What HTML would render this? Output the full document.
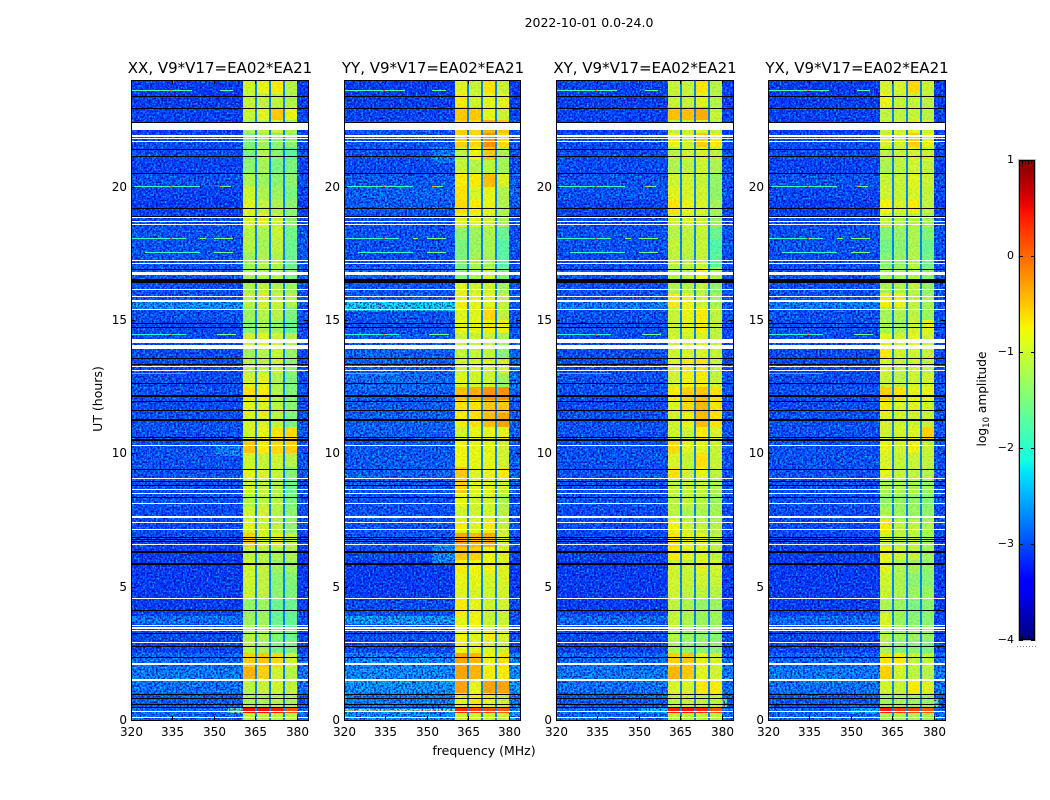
<!DOCTYPE html>
<html lang="en">
<head>
<meta charset="utf-8">
<title>2022-10-01 0.0-24.0</title>
<style>
html,body{margin:0;padding:0;background:#fff;width:1050px;height:800px;overflow:hidden}
svg{display:block;font-family:"DejaVu Sans","Liberation Sans",sans-serif;fill:#000}
.noise{mix-blend-mode:hard-light}
</style>
</head>
<body>
<svg id="chart" xmlns="http://www.w3.org/2000/svg" width="1050" height="800" viewBox="0 0 1050 800">
<defs>
<filter id="speckle" x="0" y="0" width="100%" height="100%" color-interpolation-filters="sRGB">
<feTurbulence type="fractalNoise" baseFrequency="0.55" numOctaves="2" seed="4"/>
<feColorMatrix type="matrix" values="0 0 0 0 .5  1.9 0 0 0 -.62  1.2 0 0 0 -.05  0 0 0 0 1"/>
</filter>
<linearGradient id="jet-gradient" x1="0" y1="1" x2="0" y2="0"></linearGradient>
</defs>
<text x="589" y="27" text-anchor="middle" font-size="12.5">2022-10-01 0.0-24.0</text>
<text x="484" y="755" text-anchor="middle" font-size="12.5">frequency (MHz)</text>
<text transform="translate(102,399) rotate(-90)" text-anchor="middle" font-size="12.5">UT (hours)</text>
<text transform="translate(986,399) rotate(-90)" text-anchor="middle" font-size="12.2">log<tspan font-size="8.5" dy="3">10</tspan><tspan dy="-3"> amplitude</tspan></text>
<g id="panels"></g>
<g id="colorbar"></g>
</svg>
<script>
// Each row: [background, band1, band2, band3, band4] in log10 amplitude.
// Rows run from the 23.5-24 h bin at the top down to the 0-0.5 h bin.
const xxRows = [
[-3,-1,-.85,-.75,-1.15],[-3,-1.05,-1.1,-1.1,-1.2],[-2.95,-1.05,-.9,-.55,-.85],[-3,-1.2,-1.1,-1,-1.2],
[-2.9,-1.5,-1.3,-1.4,-1.4],[-2.9,-1.5,-1.15,-1.4,-1.7],[-2.95,-1.4,-1.25,-1.5,-1.5],[-2.85,-1.2,-1.3,-1.4,-1.4],
[-2.95,-1,-1.2,-1.3,-1.5],[-3,-.9,-1.1,-1.2,-1.4],[-2.9,-.95,-.95,-1.05,-1.4],[-2.85,-1.15,-1.2,-1.05,-1.55],
[-2.85,-1.15,-1.25,-1.1,-1.6],[-2.85,-1.3,-1.2,-1.2,-1.6],[-2.8,-1.2,-1.15,-1.15,-1.5],[-2.85,-1.2,-1.1,-1.2,-1.3],
[-2.85,-1.1,-1,-1.05,-1.15],[-2.85,-1.3,-1.15,-1.15,-1.5],[-2.9,-1.4,-1.2,-1.3,-1.6],[-2.9,-1,-.9,-1,-1.2],
[-2.9,-1.3,-1.15,-1.05,-1.35],[-2.9,-1.15,-1.1,-1,-1.4],[-2.9,-.95,-.9,-1.2,-1.5],[-2.85,-.7,-.75,-1.15,-1.45],
[-2.9,-.9,-.95,-1.1,-1.4],[-2.85,-.95,-.95,-1.1,-1.5],[-2.85,-.95,-.85,-.7,-.65],[-2.85,-.55,-.75,-.65,-.6],
[-2.85,-1,-1.05,-1,-1.15],[-2.85,-.85,-.95,-1.05,-1.45],[-2.85,-1,-1.1,-1.2,-1.6],[-2.85,-1.15,-1.1,-1.15,-1.5],
[-2.9,-1,-1,-1.15,-1.4],[-2.9,-.9,-1,-1.15,-1.35],[-2.9,-.6,-.95,-.9,-1.05],[-3,-1.1,-1.15,-1.2,-1.2],
[-3,-1,-1.1,-1.3,-1.3],[-3,-1,-1.1,-1.4,-1.45],[-3,-1.05,-1.1,-1.4,-1.5],[-3,-1.35,-1.3,-1.6,-1.6],
[-2.9,-1.3,-1.3,-1.6,-1.65],[-2.9,-1.15,-1.2,-1.45,-1.6],[-2.95,-1.1,-1.25,-1.5,-1.5],[-2.7,-.6,-.55,-.65,-1],
[-2.6,-.45,-.6,-1,-1.15],[-2.65,-1.1,-1.05,-1,-1.1],[-2.8,-1.2,-1.2,-1.15,-1.2],[-2.7,-1.1,-1.1,-1.1,-1.15]
];
const yyRows = [
[-3,-.9,-1.05,-.7,-1.05],[-3,-.75,-1,-.85,-.9],[-2.95,-.55,-.55,-.85,-1.05],[-2.85,-.6,-.65,-.45,-.55],
[-2.85,-.6,-.65,-.25,-.65],[-2.85,-1.1,-.8,-.55,-1.2],[-2.9,-1.05,-1.15,-1.1,-1.25],[-2.8,-.75,-.75,-.5,-.95],
[-2.75,-.7,-.95,-.85,-1.2],[-2.8,-.65,-.75,-.85,-1.2],[-2.85,-.9,-.9,-1,-1.25],[-2.85,-1.4,-1.3,-1.2,-1.6],
[-2.85,-1.5,-1.3,-1.2,-1.7],[-2.9,-1.5,-1.25,-1.25,-1.7],[-2.75,-1.45,-1.2,-1,-1.5],[-2.8,-.9,-1,-1,-1.25],
[-2.8,-.75,-.85,-.85,-1.05],[-2.85,-.9,-.9,-.65,-1.1],[-2.85,-.85,-.85,-.75,-.85],[-2.8,-1.05,-1.05,-1.05,-1.25],
[-2.75,-1.05,-1.05,-1.05,-1.4],[-2.75,-1,-.95,-.95,-1],[-2.7,-.9,-1,-1,-1.3],[-2.75,-.5,-.4,-.25,-.25],
[-2.8,-.7,-.7,-.55,-.55],[-2.75,-.75,-.7,-.5,-.35],[-2.75,-1,-.85,-.85,-.9],[-2.8,-.8,-.85,-.85,-1],
[-2.8,-.8,-.85,-.85,-1],[-2.75,-.55,-.9,-.8,-.75],[-2.8,-.6,-.9,-.9,-1],[-2.85,-.85,-1,-1,-1.2],
[-2.85,-1,-1,-1,-1.15],[-2.85,-.75,-.9,-.75,-1.05],[-2.8,-.35,-.45,-.4,-.95],[-2.9,-.55,-.6,-.8,-.95],
[-3,-.75,-.8,-.8,-.95],[-3,-.85,-.85,-.95,-.95],[-3,-.9,-.95,-1,-1],[-2.9,-.75,-.85,-1,-1],
[-2.85,-.85,-.8,-1.05,-1.05],[-2.85,-.8,-.9,-.75,-.95],[-2.9,-.8,-.85,-.9,-1],[-2.55,-.35,-.45,-.8,-.7],
[-2.5,-.35,-.45,-.75,-.75],[-2.45,-.35,-.85,-.35,-.35],[-2.6,-.9,-.75,-.85,-1],[-2.5,-1,-1,-1,-1.05]
];
const xyRows = [
[-2.95,-1.05,-1.05,-.7,-1.15],[-3,-1.05,-1.05,-.9,-1.15],[-2.95,-.5,-.5,-.4,-1.05],[-3,-1.1,-1,-.95,-1.1],
[-2.9,-.85,-1,-.6,-.75],[-2.9,-1.15,-1,-.95,-1.1],[-2.9,-1.2,-1.1,-1,-1.2],[-2.85,-1,-1,-1.05,-1.35],
[-2.85,-.9,-.95,-1,-1.35],[-2.95,-.7,-.85,-.95,-1.25],[-2.9,-1,-1,-1.05,-1.3],[-2.85,-1.15,-1.1,-1.05,-1.6],
[-2.85,-1.05,-1.1,-1.05,-1.75],[-2.9,-1.1,-1.15,-1.05,-1.7],[-2.85,-1.15,-1.1,-.85,-1.2],[-2.85,-1.2,-1.15,-1.1,-1.4],
[-2.85,-.75,-.8,-1,-1.25],[-2.85,-1.05,-.85,-.75,-1.1],[-2.85,-1.05,-.9,-.75,-1.1],[-2.9,-1,-1,-.95,-1.1],
[-2.9,-1,-.95,-.95,-1.05],[-2.9,-.95,-.75,-.7,-1.05],[-2.85,-1,-.8,-.75,-1.05],[-2.85,-.75,-.6,-.55,-.7],
[-2.9,-.9,-.65,-.45,-.7],[-2.85,-1,-.85,-.5,-.7],[-2.85,-1,-1,-.75,-.95],[-2.85,-.65,-.9,-.9,-1.05],
[-2.85,-.95,-1.05,-.7,-1.05],[-2.85,-.7,-1,-.85,-1.1],[-2.85,-1.05,-1.05,-1.05,-1.2],[-2.85,-1.15,-1.1,-1.15,-1.3],
[-2.9,-1.1,-1.2,-1.2,-1.25],[-2.9,-.8,-1,-1.05,-1.15],[-2.9,-.7,-.85,-.85,-1.1],[-2.95,-.75,-.9,-.95,-1.1],
[-3,-1,-1.05,-.9,-1],[-3,-1,-1.05,-1,-1.05],[-3,-1,-1.1,-1.1,-1.15],[-3,-1.1,-1.2,-1.35,-1.3],
[-2.9,-1.05,-1.2,-1.3,-1.3],[-2.9,-1.15,-1.3,-1.35,-1.4],[-2.95,-1.2,-1.35,-1.35,-1.4],[-2.7,-.6,-.55,-.85,-1],
[-2.6,-.45,-.55,-.9,-1],[-2.65,-.95,-.95,-.75,-.75],[-2.8,-1.1,-1.05,-1.1,-1.1],[-2.7,-1.1,-1.1,-1.1,-1.15]
];
const yxRows = [
[-3,-.95,-.95,-.65,-1.05],[-3,-.85,-1.05,-1.05,-1.1],[-2.95,-1.1,-1.1,-1.05,-1.15],[-3,-1.05,-1,-.85,-1],
[-2.9,-.95,-1,-.6,-.85],[-2.9,-1.1,-1.05,-.95,-1.05],[-2.95,-1.2,-1.1,-1,-1.1],[-2.85,-1.05,-1.05,-.9,-1.05],
[-2.9,-1,-1.05,-.95,-1.1],[-3,-.8,-.95,-.75,-1.1],[-2.9,-1.05,-1.15,-1.15,-1.25],[-2.85,-1.45,-1.35,-1.2,-1.45],
[-2.85,-1.55,-1.4,-1.2,-1.6],[-2.9,-1.45,-1.35,-1.15,-1.55],[-2.85,-1.25,-1.25,-1.15,-1.4],[-2.85,-1.25,-1.2,-1.1,-1.35],
[-2.85,-.75,-.85,-1.1,-1.25],[-2.85,-1.25,-1.2,-1.1,-1.3],[-2.85,-1.2,-1.25,-1,-.9],[-2.9,-.9,-1,-.85,-1],
[-2.9,-.75,-1,-1,-1.05],[-2.9,-.95,-1.05,-1,-1.1],[-2.9,-1.05,-1.1,-1,-1],[-2.85,-.6,-.7,-.85,-.85],
[-2.9,-.75,-.95,-.9,-1],[-2.85,-.95,-1,-1,-1.05],[-2.85,-1,-.95,-.9,-.6],[-2.85,-.85,-1,-.8,-1.05],
[-2.85,-.95,-1.05,-1.05,-1.1],[-2.85,-.85,-1.05,-1.05,-1.15],[-2.85,-1.2,-1.2,-1.2,-1.3],[-2.85,-1.35,-1.35,-1.35,-1.45],
[-2.9,-1.2,-1.3,-1.3,-1.35],[-2.9,-.75,-1.1,-1.05,-1.2],[-2.9,-1,-1.1,-1.1,-1.25],[-3,-.85,-1,-1.05,-1.25],
[-3,-.9,-1.2,-1.25,-1.35],[-3,-1,-1.2,-1.4,-1.4],[-3,-1.05,-1.2,-1.3,-1.3],[-3,-1.2,-1.3,-1.5,-1.4],
[-2.9,-.95,-1.3,-1.4,-1.4],[-2.9,-1.1,-1.25,-1.3,-1.3],[-2.95,-1.2,-1.4,-1.4,-1.5],[-2.7,-.7,-.75,-1.05,-1.1],
[-2.6,-.6,-1,-1.1,-1.15],[-2.65,-1,-1.05,-.75,-.95],[-2.8,-1.3,-1.25,-1.3,-1.3],[-2.7,-1.2,-1.2,-1.2,-1.25]
];
const panelTitles = ["XX, V9*V17=EA02*EA21", "YY, V9*V17=EA02*EA21", "XY, V9*V17=EA02*EA21", "YX, V9*V17=EA02*EA21"];
const panelKeys = ["xx", "yy", "xy", "yx"];
// Frequency bin edges (MHz) and which row entry each bin reads: 0 background, 1-4 bands, -1 notch between bands.
const freqEdges = [320, 360.4, 364.8, 365.6, 369.9, 370.7, 374.9, 375.7, 380, 384];
const freqColumns = [0, 1, -1, 2, -1, 3, -1, 4, 0];
const notchLevel = -2.7;
// Bright strip near 0.4 h, one row per panel, band1..band4 levels.
const stripHours = [0.26, 0.5];
const stripLevels = [[.5,.5,.4,.1],[.35,.2,.15,.05],[.4,.45,.35,.1],[.4,.25,.2,.05]];
// Interference lines present in all panels: hour, start MHz, end MHz, level.
const spurHours = [23.6, 23.6, 23.6, 20, 20, 20, 20, 18.04, 18.04, 18.04, 18.04, 17.54, 17.54, 14.46, 14.46, 14.46, 13];
const spurStart = [320, 334, 352, 321, 334, 352, 353, 320, 334, 345, 350, 325, 350, 320, 334, 351, 320];
const spurEnd = [342, 335, 357, 345, 335, 353, 356, 340, 335, 347, 357, 345, 357, 340, 335, 358, 340];
const spurLevel = [-1.75, 0, -1.7, -1.85, 0, -.3, -1.6, -1.9, .1, -1.4, -1.5, -1.95, -1.6, -2, 0, -1.6, -2.4];
// Broad patches: panel index, start MHz, end MHz, start hour, end hour, level.
const patchPanel = [0, 1, 2, 3, 0, 1, 2, 3, 1, 1, 0, 1, 1, 2, 3, 0, 2, 3];
const patchStartMHz = [320, 320, 320, 320, 320, 320, 320, 320, 352, 352, 355, 320, 352, 350, 350, 350, 380, 380];
const patchEndMHz = [360.4, 360.4, 360.4, 360.4, 360.4, 360.4, 360.4, 360.4, 360.4, 360.4, 360.4, 360.4, 360.4, 360.4, 360.4, 360.4, 382, 382];
const patchStartHour = [15.4, 15.35, 15.4, 15.4, 3.6, 3.6, 3.6, 3.6, 5.9, 20.9, .26, .3, 5.9, .26, .26, 9.9, .5, .5];
const patchEndHour = [15.7, 15.7, 15.7, 15.7, 3.9, 3.9, 3.9, 3.9, 6.55, 21.5, .5, .4, 6.55, .5, .5, 10.3, .8, .8];
const patchLevel = [-2.5, -2.15, -2.6, -2.6, -2.65, -2.4, -2.7, -2.7, -2.5, -2.6, -1.7, -1.4, -2.5, -2.3, -2.3, -2.6, -1.8, -1.8];
// Flagged time ranges in hours, common to all panels.
const whiteFlags = [[22.14,22.37],[21.88,21.92],[21.77,21.81],[21.66,21.7],[18.82,18.86],[18.69,18.73],[18.57,18.61],[17.22,17.26],[17.11,17.15],[16.69,16.79],[16.13,16.17],[15.85,15.89],[15.68,15.75],[15.36,15.4],[14.14,14.29],[13.91,14.07],[13.22,13.26],[13.07,13.11],[10.28,10.32],[9.04,9.08],[8.61,8.65],[8.48,8.52],[8.11,8.15],[7.59,7.65],[7.39,7.43],[7.11,7.15],[6.57,6.61],[4.53,4.57],[3.51,3.55],[3.43,3.47],[3.34,3.38],[2.88,2.92],[2.08,2.12],[1.47,1.53],[.31,.35],[.07,.11]];
const blackFlags = [[23.37,23.41],[22.92,22.96],[22.37,22.41],[21.38,21.42],[21.12,21.16],[20.47,20.51],[19.17,19.21],[18.86,18.9],[16.88,16.92],[16.39,16.53],[14.86,14.9],[14.69,14.73],[13.54,13.58],[13.3,13.34],[12.59,12.63],[12.13,12.19],[11.92,11.96],[11.59,11.63],[11.23,11.29],[10.56,10.6],[10.48,10.52],[9.36,9.4],[8.91,8.97],[8.79,8.83],[8.33,8.37],[6.83,6.87],[6.76,6.8],[6.68,6.72],[6.28,6.34],[5.82,5.88],[4.09,4.13],[3.22,3.28],[2.72,2.78],[2.33,2.37],[.94,.98],[.79,.83],[.57,.61],[.44,.48]];
const xTicks = [320, 335, 350, 365, 380];
const yTicks = [0, 5, 10, 15, 20];
const colorTicks = [1, 0, -1, -2, -3, -4];
const colorLabels = ["1", "0", "\u22121", "\u22122", "\u22123", "\u22124"];

const NS = "http://www.w3.org/2000/svg";
const panelLeft = [131, 344, 556, 768];
const panelWidths = [177, 176, 177, 177];
const plotTop = 80, plotBottom = 720;
const freqMin = 320, freqMax = 384, hourMax = 24, rowSpan = 0.5;
const allRows = [xxRows, yyRows, xyRows, yxRows];

function xScale(p, f) { return panelLeft[p] + (f - freqMin) / (freqMax - freqMin) * panelWidths[p]; }
function yScale(h) { return plotBottom - h / hourMax * (plotBottom - plotTop); }
function interp(t, pts) {
  for (let i = 1; i < pts.length; i++) {
    if (t <= pts[i][0]) {
      const a = pts[i - 1], b = pts[i];
      return a[1] + (b[1] - a[1]) * (t - a[0]) / (b[0] - a[0]);
    }
  }
  return pts[pts.length - 1][1];
}
function jet(t) {
  t = Math.max(0, Math.min(1, t));
  const r = interp(t, [[0,0],[.35,0],[.66,1],[.89,1],[1,.5]]);
  const g = interp(t, [[0,0],[.125,0],[.375,1],[.64,1],[.91,0],[1,0]]);
  const b = interp(t, [[0,.5],[.11,1],[.34,1],[.65,0],[1,0]]);
  return "rgb(" + Math.round(r * 255) + "," + Math.round(g * 255) + "," + Math.round(b * 255) + ")";
}
function levelColor(v) { return jet((v + 4) / 5); }
function make(tag, attrs, parent) {
  const e = document.createElementNS(NS, tag);
  for (const k in attrs) e.setAttribute(k, attrs[k]);
  parent.appendChild(e);
  return e;
}
function block(p, f0, f1, h0, h1, fill, parent) {
  const x0 = Math.round(xScale(p, f0)), x1 = Math.round(xScale(p, f1));
  const y0 = Math.round(yScale(h1)), y1 = Math.max(y0 + 1, Math.round(yScale(h0)));
  return make("rect", {x: x0, y: y0, width: x1 - x0, height: y1 - y0, fill: fill}, parent);
}

const panelsGroup = document.getElementById("panels");
allRows.forEach(function (rows, p) {
  const key = panelKeys[p];
  const g = make("g", {}, panelsGroup);
  
  

  const title = make("text", {x: panelLeft[p] + 89, y: 73, "text-anchor": "middle", "font-size": "15"}, g);
  title.textContent = panelTitles[p];
  
  

  const cells = make("g", {"shape-rendering": "crispEdges"}, g);
  
  

  rows.forEach(function (row, i) {
    const hTop = hourMax - i * rowSpan;
    freqColumns.forEach(function (col, c) {
      const v = col < 0 ? notchLevel : row[col];
      const cell = block(p, freqEdges[c], freqEdges[c + 1], hTop - rowSpan, hTop, levelColor(v), cells);
      
      
    });
  });

  patchPanel.forEach(function (q, i) {
    if (q !== p) return;
    const patch = block(p, patchStartMHz[i], patchEndMHz[i], patchStartHour[i], patchEndHour[i], levelColor(patchLevel[i]), cells);
    
    
  });

  stripLevels[p].forEach(function (v, b) {
    const c = freqColumns.indexOf(b + 1);
    const strip = block(p, freqEdges[c], freqEdges[c + 1], stripHours[0], stripHours[1], levelColor(v), cells);
    
    
  });

  const noiseBg = block(p, freqMin, freqEdges[1], 0, hourMax, "#808080", g);
  noiseBg.setAttribute("class", "noise");
  noiseBg.setAttribute("filter", "url(#speckle)");
  noiseBg.setAttribute("opacity", "0.85");
  
  
  const noiseRight = block(p, freqEdges[8], freqMax, 0, hourMax, "#808080", g);
  noiseRight.setAttribute("class", "noise");
  noiseRight.setAttribute("filter", "url(#speckle)");
  noiseRight.setAttribute("opacity", "0.85");
  
  
  const noiseBand = block(p, freqEdges[1], freqEdges[8], 0, hourMax, "#808080", g);
  noiseBand.setAttribute("class", "noise");
  noiseBand.setAttribute("filter", "url(#speckle)");
  noiseBand.setAttribute("opacity", "0.12");
  
  

  const spurs = make("g", {"shape-rendering": "crispEdges"}, g);
  
  
  spurHours.forEach(function (h, i) {
    const spur = block(p, spurStart[i], spurEnd[i], h - 0.02, h + 0.02, levelColor(spurLevel[i]), spurs);
    
    
  });

  const flags = make("g", {"shape-rendering": "crispEdges"}, g);
  
  
  whiteFlags.forEach(function (f) {
    const r = block(p, freqMin, freqMax, f[0], f[1], "#fff", flags);
    
    
  });
  blackFlags.forEach(function (f) {
    const r = block(p, freqMin, freqMax, f[0], f[1], "#000", flags);
    
    
  });

  const axes = make("g", {"shape-rendering": "crispEdges"}, g);
  
  
  const frame = make("rect", {x: panelLeft[p] + 0.5, y: plotTop + 0.5, width: panelWidths[p], height: plotBottom - plotTop, fill: "none", stroke: "#000", "stroke-width": 1}, axes);
  
  

  xTicks.forEach(function (t) {
    const x = Math.round(xScale(p, t)) + 0.5;
    make("line", {x1: x, x2: x, y1: plotBottom, y2: plotBottom - 4, stroke: "#000"}, axes);
    make("line", {x1: x, x2: x, y1: plotTop, y2: plotTop + 4, stroke: "#000"}, axes);
    const lab = make("text", {x: x, y: 736, "text-anchor": "middle", "font-size": "12"}, g);
    lab.textContent = t;
    
    
  });
  yTicks.forEach(function (t) {
    const y = Math.round(yScale(t)) + 0.5;
    make("line", {x1: panelLeft[p], x2: panelLeft[p] + 4, y1: y, y2: y, stroke: "#000"}, axes);
    make("line", {x1: panelLeft[p] + panelWidths[p], x2: panelLeft[p] + panelWidths[p] - 4, y1: y, y2: y, stroke: "#000"}, axes);
    const lab = make("text", {x: panelLeft[p] - 4, y: y + 3.5, "text-anchor": "end", "font-size": "12"}, g);
    lab.textContent = t;
    
    
  });
});

// Colorbar
const cbLeft = 1019, cbRight = 1035, cbTop = 160, cbBottom = 640, cbMin = -4, cbMax = 1;
function cbScale(v) { return cbBottom - (v - cbMin) / (cbMax - cbMin) * (cbBottom - cbTop); }
const gradient = document.getElementById("jet-gradient");
for (let i = 0; i <= 40; i++) {
  make("stop", {offset: (i / 40).toFixed(3), "stop-color": jet(i / 40)}, gradient);
}
const cb = document.getElementById("colorbar");
const ramp = make("rect", {x: cbLeft, y: cbTop, width: cbRight - cbLeft, height: cbBottom - cbTop, fill: "url(#jet-gradient)"}, cb);


const cbFrame = make("rect", {x: cbLeft + 0.5, y: cbTop + 0.5, width: cbRight - cbLeft - 1, height: cbBottom - cbTop - 1, fill: "none", stroke: "#000", "shape-rendering": "crispEdges"}, cb);


const cbOuter = make("rect", {x: cbLeft - 0.5, y: cbTop - 0.5, width: cbRight - cbLeft + 1, height: cbBottom - cbTop + 1, fill: "none", stroke: "#bbb", "shape-rendering": "crispEdges"}, cb);


colorTicks.forEach(function (v, i) {
  const y = Math.round(cbScale(v));
  make("line", {x1: cbLeft, x2: cbLeft + 4, y1: y + 0.5, y2: y + 0.5, stroke: "#000", "shape-rendering": "crispEdges"}, cb);
  make("line", {x1: cbRight - 4, x2: cbRight, y1: y + 0.5, y2: y + 0.5, stroke: "#000", "shape-rendering": "crispEdges"}, cb);
  const lab = make("text", {x: cbLeft - 5, y: y + 3, "text-anchor": "end", "font-size": "11"}, cb);
  lab.textContent = colorLabels[i];
  
  
});
[1022, 1025, 1028, 1031].forEach(function (x) {
  make("line", {x1: x + 0.5, x2: x + 0.5, y1: cbTop, y2: cbTop + 4, stroke: "#000", "shape-rendering": "crispEdges"}, cb);
  make("line", {x1: x + 0.5, x2: x + 0.5, y1: cbBottom, y2: cbBottom - 4, stroke: "#000", "shape-rendering": "crispEdges"}, cb);
});
const dots = make("line", {x1: 1017, x2: 1036, y1: 646.5, y2: 646.5, stroke: "#888", "stroke-dasharray": "1 2", "shape-rendering": "crispEdges"}, cb);


</script>
</body>
</html>
